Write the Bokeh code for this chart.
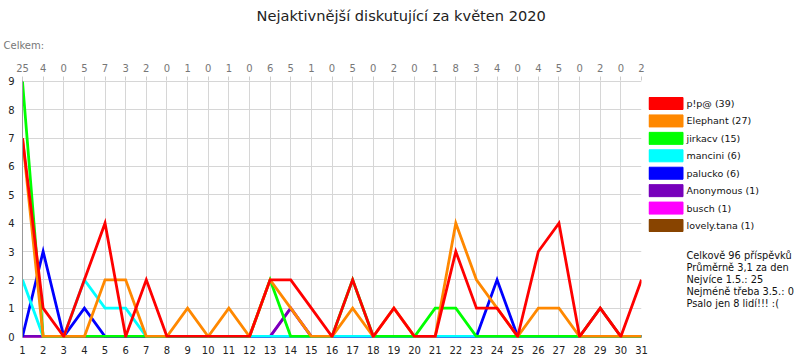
from bokeh.plotting import figure
from bokeh.models import Range1d, LinearAxis, FixedTicker, Title
from bokeh.layouts import row
from bokeh.core.properties import value
from bokeh.embed import file_html
from bokeh.resources import INLINE

days = list(range(1, 32))
totals = [25, 4, 0, 5, 7, 3, 2, 0, 1, 0, 1, 0, 6, 5, 1, 0, 5, 0, 2, 0, 1, 8, 3, 4, 0, 4, 5, 0, 2, 0, 2]

names = ["p!p@", "Elephant", "jirkacv", "mancini", "palucko", "Anonymous", "busch", "lovely.tana"]
pip = [7, 1, 0, 2, 4, 0, 2, 0, 0, 0, 0, 0, 2, 2, 1, 0, 2, 0, 1, 0, 0, 3, 1, 1, 0, 3, 4, 0, 1, 0, 2]
elephant = [7, 0, 0, 0, 2, 2, 0, 0, 1, 0, 1, 0, 2, 1, 0, 0, 1, 0, 1, 0, 0, 4, 2, 1, 0, 1, 1, 0, 0, 0, 0]
jirkacv = [9, 0, 0, 0, 0, 0, 0, 0, 0, 0, 0, 0, 2, 0, 0, 0, 2, 0, 0, 0, 1, 1, 0, 0, 0, 0, 0, 0, 0, 0, 0]
mancini = [2, 0, 0, 2, 1, 1, 0, 0, 0, 0, 0, 0, 0, 0, 0, 0, 0, 0, 0, 0, 0, 0, 0, 0, 0, 0, 0, 0, 0, 0, 0]
palucko = [0, 3, 0, 1, 0, 0, 0, 0, 0, 0, 0, 0, 0, 0, 0, 0, 0, 0, 0, 0, 0, 0, 0, 2, 0, 0, 0, 0, 0, 0, 0]
anonymous = [0, 0, 0, 0, 0, 0, 0, 0, 0, 0, 0, 0, 0, 1, 0, 0, 0, 0, 0, 0, 0, 0, 0, 0, 0, 0, 0, 0, 0, 0, 0]
busch = [0, 0, 0, 0, 0, 0, 0, 0, 0, 0, 0, 0, 0, 1, 0, 0, 0, 0, 0, 0, 0, 0, 0, 0, 0, 0, 0, 0, 0, 0, 0]
lovely = [0, 0, 0, 0, 0, 0, 0, 0, 0, 0, 0, 0, 0, 0, 0, 0, 0, 0, 0, 0, 0, 0, 0, 0, 0, 0, 0, 0, 1, 0, 0]
series = [pip, elephant, jirkacv, mancini, palucko, anonymous, busch, lovely]
colors = ["#ff0000", "#ff8800", "#00ff00", "#00ffff", "#0000ff", "#7700bb", "#ff00ff", "#884400"]

title_text = "Nejaktivnější diskutující za květen 2020"
top_caption = "Celkem:"
stats_lines = ["Celkově 96 příspěvků", "Průměrně 3,1 za den", "Nejvíce 1.5.: 25",
               "Nejméně třeba 3.5.: 0", "Psalo jen 8 lidí!!! :("]

FONT = "DejaVu Sans"
TOP, BOTTOM = 80, 23
H = 360
PW = 648  # width of the chart figure (frame ends at 641)

# ---------------- main chart ----------------
p = figure(width=PW, height=H, x_range=Range1d(1, 31), y_range=Range1d(-0.035, 9.035),
           output_backend="svg", toolbar_location=None,
           min_border_left=22, min_border_right=PW - 641, min_border_top=TOP, min_border_bottom=BOTTOM)
p.outline_line_color = None

xt = FixedTicker(ticks=days)
yt = FixedTicker(ticks=list(range(0, 10)))
p.xaxis.ticker = xt
p.yaxis.ticker = yt
for ax in (p.xaxis, p.yaxis):
    ax.major_label_text_font = FONT
    ax.major_label_text_font_size = "10px"
    ax.major_label_text_color = "#222222"
    ax.major_tick_out = 0
    ax.major_tick_in = 0
    ax.minor_tick_out = 0
    ax.minor_tick_in = 0
p.xaxis.axis_line_color = None
p.xaxis.major_label_standoff = 8
p.yaxis.axis_line_color = "#999999"
p.yaxis.major_label_standoff = 8
p.grid.grid_line_color = "#d6d6d6"
p.grid.grid_line_width = 1

top = LinearAxis(ticker=xt, major_label_overrides={d: str(t) for d, t in zip(days, totals)})
top.major_label_text_font = FONT
top.major_label_text_font_size = "10px"
top.major_label_text_color = "#777777"
top.axis_line_color = None
top.major_tick_out = 4
top.major_tick_in = 0
top.minor_tick_out = 0
top.minor_tick_in = 0
top.major_tick_line_color = "#cccccc"
top.major_label_standoff = 5
p.add_layout(top, "above")

p.add_layout(Title(text=top_caption, align="left", offset=-19, standoff=20,
                   text_font=FONT, text_font_size="10px", text_font_style="normal",
                   text_color="#777777"), "above")

p.title.text = title_text
p.title.align = "left"
p.title.offset = 234
p.title.standoff = 7
p.title.text_font = FONT
p.title.text_font_size = "14.6px"
p.title.text_font_style = "normal"
p.title.text_color = "#222222"

# draw in reverse order so the first series ends up on top
for name, vals, c in reversed(list(zip(names, series, colors))):
    p.line(days, vals, line_color=c, line_width=2.8, line_join="miter")

# ---------------- legend + stats panel (y in page pixels) ----------------
QW = 800 - PW
q = figure(width=QW, height=H, x_range=Range1d(0, QW),
           y_range=Range1d(H - BOTTOM, TOP),
           output_backend="svg", toolbar_location=None,
           x_axis_location=None, y_axis_location=None,
           min_border_left=0, min_border_right=0, min_border_top=TOP, min_border_bottom=BOTTOM)
q.outline_line_color = None
q.grid.visible = False

box_left, box_w, box_h = 0.5, 34, 12
text_x = 38
first_y, step = 103, 17.43
ys = [first_y + i * step for i in range(len(names))]
labels = [f"{n} ({sum(v)})" for n, v in zip(names, series)]
q.rect(x=[box_left + box_w / 2] * len(names), y=ys, width=box_w, height=box_h,
       fill_color=colors, line_color=colors)
q.text(x=[text_x] * len(names), y=ys, text=labels, text_font=value(FONT), text_font_size="9.5px",
       text_baseline="middle", text_align="left", text_color="#111111")

stats_y = [255 + j * 12 for j in range(len(stats_lines))]
q.text(x=[text_x] * len(stats_lines), y=stats_y, text=stats_lines, text_font=value(FONT),
       text_font_size="9.8px", text_baseline="middle", text_align="left", text_color="#111111")

layout = row(p, q, spacing=0)
open("out.html", "w").write(file_html(layout, INLINE))
